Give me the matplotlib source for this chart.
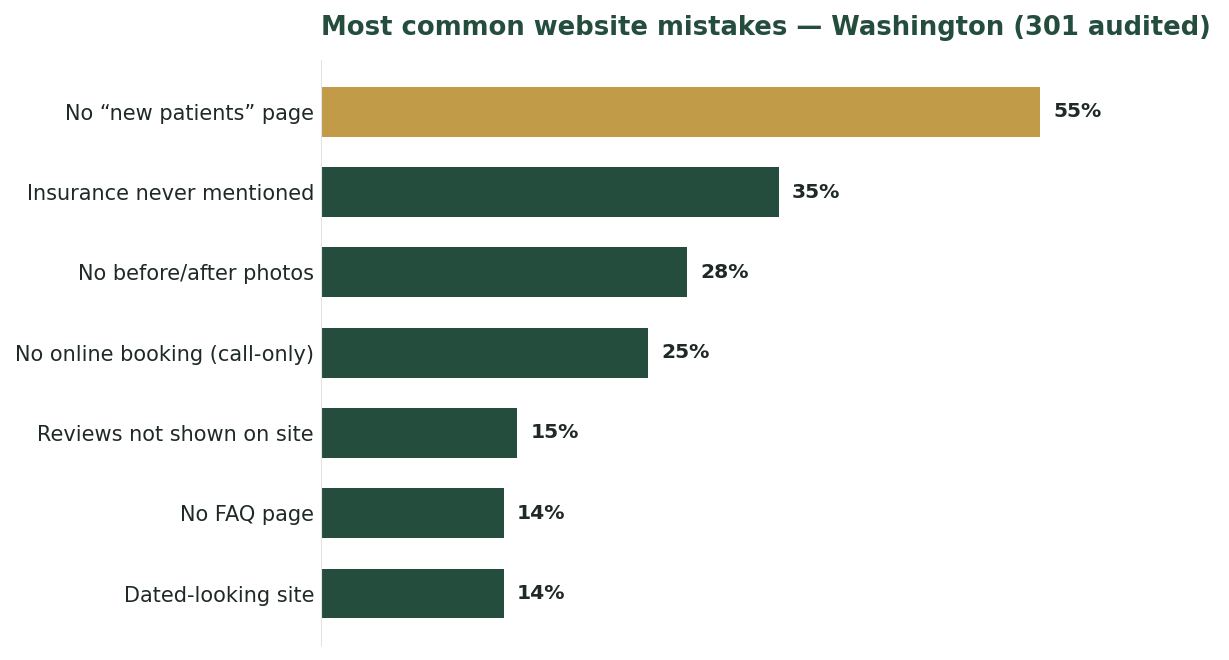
import matplotlib
matplotlib.use("Agg")
import matplotlib.pyplot as plt

categories = [
    "No \u201cnew patients\u201d page",
    "Insurance never mentioned",
    "No before/after photos",
    "No online booking (call-only)",
    "Reviews not shown on site",
    "No FAQ page",
    "Dated-looking site",
]
values = [55, 35, 28, 25, 15, 14, 14]

green = "#244d3e"
gold = "#c19b48"
ink = "#1f2a26"

fig = plt.figure(figsize=(12.29, 6.60), dpi=100)
ax = fig.add_axes([0.2612, 0.0227, 0.7315, 0.886])

ypos = list(range(len(values)))
colors = [gold] + [green] * (len(values) - 1)
ax.barh(ypos, values, height=0.62, color=colors)
ax.invert_yaxis()
ax.set_xlim(0, max(values) * 1.25)

for y, v in zip(ypos, values):
    ax.text(v + 1.0, y, f"{v}%", va="center", ha="left",
            fontsize=14.6, fontweight="bold", color=ink)

ax.set_yticks(ypos)
ax.set_yticklabels(categories, fontsize=15, color=ink)
ax.tick_params(axis="y", length=0, pad=5)
ax.xaxis.set_visible(False)
for s in ["top", "right", "bottom"]:
    ax.spines[s].set_visible(False)
ax.spines["left"].set_color("#e3e3e3")

ax.set_title("Most common website mistakes \u2014 Washington (301 audited)",
             loc="left", fontsize=18.6, fontweight="bold", color=green, pad=18)

fig.savefig("out.png", dpi=100)
